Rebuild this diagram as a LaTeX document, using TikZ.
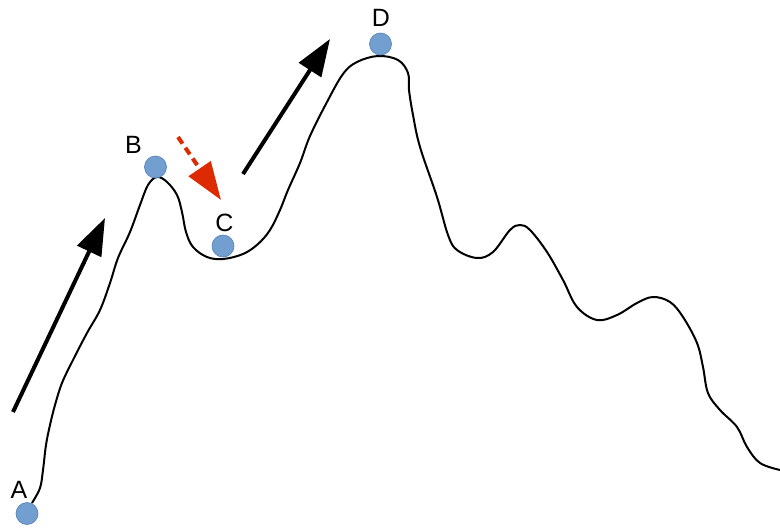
\documentclass[tikz,border=0pt]{standalone}
\usepackage{fontspec}
\setmainfont{Liberation Sans}
\usetikzlibrary{arrows.meta}
\definecolor{ballfill}{HTML}{729FCF}
\definecolor{balldraw}{HTML}{4F7FB8}
\definecolor{redarrow}{HTML}{DD2A00}
\tikzset{
  ball/.style={circle, fill=ballfill, draw=balldraw, line width=0.6pt, minimum size=22pt, inner sep=0pt},
  lbl/.style={inner sep=0pt, font=\fontsize{25}{30}\selectfont},
  bigarrow/.style={line width=4pt, -{Triangle[length=37pt,width=26pt]}},
  redarr/.style={line width=4pt, draw=redarrow, dash pattern=on 8pt off 5pt, -{Triangle[length=38pt,width=26pt,fill=redarrow,color=redarrow]}},
  terrain/.style={line width=2pt, line join=round}
}
\begin{document}
\begin{tikzpicture}[x=1pt,y=-1pt]
\useasboundingbox (0,0) rectangle (780,530);
\draw[terrain] plot[smooth, tension=0.6] coordinates {
(32,503) (40,488) (43,470) (46,445) (50,425) (55,405) (62,383) (73,360) (87,333) (100,310) (110,283) (118,258) (130,232) (140,205) (148,185) (157,177) (167,182) (177,195) (182,212) (186,232) (193,247) (207,257) (223,259) (243,254) (258,244) (270,230) (280,210) (288,190) (300,163) (310,136) (327,102) (343,74) (357,62) (378,56) (398,60) (408,73) (409,90) (413,115) (420,147) (437,197) (448,235) (457,250) (477,258) (493,252) (510,230) (520,225) (530,230) (547,252) (563,280) (577,307) (597,320) (617,315) (637,303) (653,297) (670,302) (683,317) (697,343) (703,367) (708,393) (720,410) (737,427) (747,447) (760,463) (780,470)};
\node[ball] (ba) at (27,513.5) {};
\node[ball] (bb) at (155.5,167) {};
\node[ball] (bc) at (223,246) {};
\node[ball] (bd) at (380.5,44) {};
\node[lbl] (la) at (19,489.5) {A};
\node[lbl] (lb) at (133.5,145) {B};
\node[lbl] (lc) at (224.5,223) {C};
\node[lbl] (ld) at (381,17.5) {D};
\coordinate (a1s) at (13,412);
\coordinate (a1e) at (105,218);
\coordinate (a2s) at (243,174);
\coordinate (a2e) at (330,39);
\coordinate (a3s) at (178,137);
\coordinate (a3e) at (221,200);
\draw[bigarrow] (a1s) -- (a1e);
\draw[bigarrow] (a2s) -- (a2e);
\draw[redarr] (a3s) -- (a3e);
\end{tikzpicture}
\end{document}
